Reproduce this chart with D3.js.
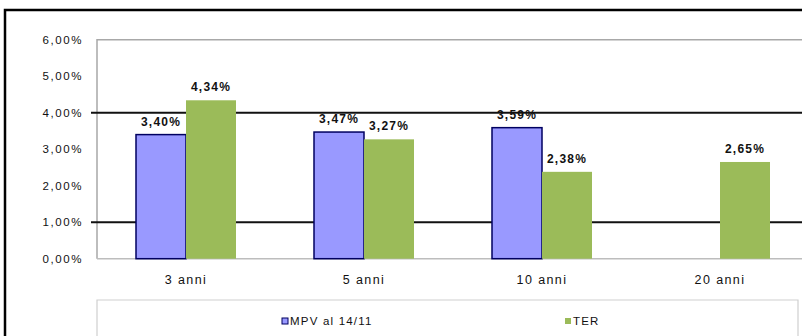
<!DOCTYPE html>
<html>
<head>
<meta charset="utf-8">
<script src="https://cdn.jsdelivr.net/npm/d3@7"></script>
<style>
  html, body { margin: 0; padding: 0; background: #fff; overflow: hidden; }
  svg { display: block; overflow: hidden; }
  text { font-family: "Liberation Sans", Arial, sans-serif; fill: #111; }
</style>
</head>
<body>
<svg id="chart" width="802" height="336"></svg>
<script>
// Rendimenti per orizzonte temporale
const categories = ["3 anni", "5 anni", "10 anni", "20 anni"];
const seriesNames = ["MPV al 14/11", "TER"];
const mpvValues = [3.40, 3.47, 3.59, null];
const terValues = [4.34, 3.27, 2.38, 2.65];
const yTicks = [0, 1, 2, 3, 4, 5, 6];
const refLines = [1, 4];

const colors = { "MPV al 14/11": "#9999ff", "TER": "#9bbb59" };
const fmtPct = v => d3.format(".2f")(v).replace(".", ",") + "%";

const svg = d3.select("#chart");

// outer frame (only top and left edges fall inside the view)
svg.append("path")
  .attr("d", "M5,400 L5,10 L900,10")
  .attr("fill", "none").attr("stroke", "#000").attr("stroke-width", 2.5);

const plot = { left: 97, right: 809, top: 39.7, bottom: 258.7 };

const x = d3.scaleBand()
  .domain(categories)
  .range([plot.left, plot.right])
  .paddingInner(78 / 178)
  .paddingOuter(39 / 178);

const xs = d3.scaleBand()
  .domain(seriesNames)
  .range([0, x.bandwidth()]);

const y = d3.scaleLinear()
  .domain([0, 6])
  .range([plot.bottom, plot.top]);

// plot area border
svg.append("path")
  .attr("d", `M${plot.left},${plot.bottom} L${plot.left},${plot.top} L900,${plot.top}`)
  .attr("fill", "none").attr("stroke", "#a8a8a8").attr("stroke-width", 1.5);
svg.append("line")
  .attr("x1", plot.left).attr("x2", 900)
  .attr("y1", plot.bottom).attr("y2", plot.bottom)
  .attr("stroke", "#bdbdbd").attr("stroke-width", 1.5);

// reference lines
svg.append("g").selectAll("line")
  .data(refLines)
  .join("line")
  .attr("x1", 91).attr("x2", 900)
  .attr("y1", d => y(d)).attr("y2", d => y(d))
  .attr("stroke", "#111").attr("stroke-width", 2);

// y axis labels
const yAxis = d3.axisLeft(y)
  .tickValues(yTicks)
  .tickSize(0)
  .tickPadding(0)
  .tickFormat(fmtPct);
svg.append("g")
  .attr("transform", `translate(83,0)`)
  .call(yAxis)
  .call(g => g.select(".domain").remove())
  .selectAll("text")
  .attr("font-family", "Liberation Sans, Arial, sans-serif")
  .attr("font-size", 11.5)
  .attr("letter-spacing", 1.6)
  .attr("fill", "#222");

// x axis labels
const xAxis = d3.axisBottom(x).tickSize(0).tickPadding(0);
svg.append("g")
  .attr("transform", `translate(0,${plot.bottom + 16})`)
  .call(xAxis)
  .call(g => g.select(".domain").remove())
  .selectAll("text")
  .attr("font-family", "Liberation Sans, Arial, sans-serif")
  .attr("font-size", 12.5)
  .attr("letter-spacing", 1.4)
  .attr("fill", "#222");

// bars
const rows = categories.map((c, i) => ({
  cat: c,
  vals: [
    { s: seriesNames[0], v: mpvValues[i] },
    { s: seriesNames[1], v: terValues[i] }
  ].filter(d => d.v != null)
}));

const groups = svg.append("g").selectAll("g")
  .data(rows)
  .join("g")
  .attr("transform", d => `translate(${x(d.cat)},0)`);

groups.selectAll("rect")
  .data(d => d.vals)
  .join("rect")
  .attr("x", d => xs(d.s))
  .attr("width", xs.bandwidth())
  .attr("y", d => y(d.v))
  .attr("height", d => plot.bottom - y(d.v))
  .attr("fill", d => colors[d.s])
  .attr("stroke", d => d.s === seriesNames[0] ? "#000060" : "none")
  .attr("stroke-width", 1.5);

groups.selectAll("text")
  .data(d => d.vals)
  .join("text")
  .attr("x", d => xs(d.s) + xs.bandwidth() / 2)
  .attr("y", d => y(d.v) - 9)
  .attr("text-anchor", "middle")
  .attr("font-size", 12)
  .attr("font-weight", "bold")
  .attr("letter-spacing", 1.2)
  .attr("fill", "#222")
  .text(d => fmtPct(d.v));

// legend box
svg.append("path")
  .attr("d", "M97,400 L97,300 L798,300 L798,400")
  .attr("fill", "#fff").attr("stroke", "#cfcfcf").attr("stroke-width", 1.2);

const legendPos = [285, 568];
const legend = svg.append("g").selectAll("g")
  .data(seriesNames)
  .join("g")
  .attr("transform", (d, i) => `translate(${legendPos[i]},321)`);

legend.append("rect")
  .attr("x", -3).attr("y", -3).attr("width", 6).attr("height", 6)
  .attr("fill", d => colors[d])
  .attr("stroke", d => d === seriesNames[0] ? "#000060" : "none")
  .attr("stroke-width", 1);

legend.append("text")
  .attr("x", 5).attr("y", 4)
  .attr("font-size", 11.5)
  .attr("letter-spacing", 1.2)
  .attr("fill", "#222")
  .text(d => d);
</script>
</body>
</html>
